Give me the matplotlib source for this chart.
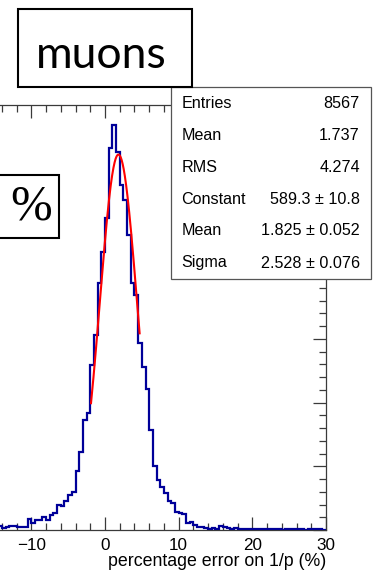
import numpy as np
import matplotlib
matplotlib.use("Agg")
import matplotlib.pyplot as plt
from matplotlib.patches import Rectangle
from matplotlib.ticker import MultipleLocator

plt.rcParams["font.family"] = ["Liberation Sans", "DejaVu Sans"]

# Histogram of the 1/p percentage error, 0.5-wide bins from -15 to 30
bin_start = -15.0
bin_stop = 30.0
counts = [
    4, 7, 3, 4, 7, 7, 5, 5, 5, 18,            # -15 .. -10
    11, 15, 15, 21, 16, 24, 26, 40, 37, 45,   # -10 .. -5
    55, 60, 93, 123, 172, 183, 259, 306, 387, 437,   # -5 .. 0
    490, 599, 636, 594, 542, 518, 463, 387, 369, 293,  # 0 .. 5
    256, 222, 157, 100, 79, 68, 58, 46, 42, 29,  # 5 .. 10
    26, 25, 11, 13, 8, 4, 4, 3, 1, 3,         # 10 .. 15
    1, 6, 4, 3, 1, 3, 2, 1, 2, 1,             # 15 .. 20
    2, 1, 1, 2, 1, 1, 2, 1, 0, 1,             # 20 .. 25
    1, 1, 2, 1, 0, 1, 1, 2, 1, 0,             # 25 .. 30
]

# Gaussian fit result and fit window
fit_constant = 589.3
fit_mean = 1.825
fit_sigma = 2.528
fit_from, fit_to = -1.9, 4.7

# Statistics box contents
stat_names = ["Entries", "Mean", "RMS", "Constant", "Mean", "Sigma"]
stat_values = ["8567", "1.737", "4.274", "589.3 \u00b1 10.8",
               "1.825 \u00b1 0.052", "2.528 \u00b1 0.076"]

# x axis: major tick positions and their printed labels
x_tick_values = [-30, -20, -10, 0, 10, 20, 30]
x_tick_labels = ["", "", "\u221210", "0", "10", "20", "30"]
x_title = "percentage error on 1/p (%)"
particle_label = "muons"
unit_label = "%"

W, H = 376, 570
fig = plt.figure(figsize=(W / 100, H / 100), dpi=100)
fig.patch.set_facecolor("white")


def fx(px):
    return px / W


def fy(py):
    return 1 - py / H


frame_col = "#3a3a3a"

ax = fig.add_axes([fx(-116), fy(530), 442 / W, 425 / H])
edges = np.linspace(bin_start, bin_stop, len(counts) + 1)
ax.stairs(counts, edges, color="#000099", linewidth=1.6, zorder=3)

xf = np.linspace(fit_from, fit_to, 300)
yf = fit_constant * np.exp(-0.5 * ((xf - fit_mean) / fit_sigma) ** 2)
ax.plot(xf, yf, color="#ff0000", linewidth=1.5, zorder=4)

ax.set_xlim(-30, 30)
ax.set_ylim(0, 667)
ax.set_xticks(x_tick_values)
ax.set_xticklabels(x_tick_labels)
ax.xaxis.set_minor_locator(MultipleLocator(2))
ax.yaxis.set_major_locator(MultipleLocator(100))
ax.yaxis.set_minor_locator(MultipleLocator(20))
ax.tick_params(which="both", direction="in", top=True, right=True,
               color=frame_col, width=0.9, labelsize=12.3, pad=6)
ax.tick_params(axis="y", labelleft=False)
ax.tick_params(which="major", length=9.6)
ax.tick_params(which="minor", length=4.8)
for s in ax.spines.values():
    s.set_color(frame_col)
    s.set_linewidth(0.9)

ax.set_xlabel(x_title, fontsize=12.8, loc="right")
ax.xaxis.set_label_coords(1.0, -(553 - 530) / 425)

# statistics box
bx0, by0, bx1, by1 = 171, 87, 371, 279
fig.add_artist(Rectangle((fx(bx0), fy(by1)), fx(bx1) - fx(bx0), fy(by0) - fy(by1),
                         transform=fig.transFigure, facecolor="white",
                         edgecolor="#555555", linewidth=0.9, zorder=5))
row_h = (by1 - by0) / len(stat_names)
for i, (name, val) in enumerate(zip(stat_names, stat_values)):
    yc = by0 + row_h * (i + 0.5)
    fig.text(fx(181.5), fy(yc), name, ha="left", va="center",
             fontsize=11.6, zorder=6)
    fig.text(fx(360), fy(yc), val, ha="right", va="center",
             fontsize=11.6, zorder=6)

# particle label box
fig.add_artist(Rectangle((fx(18), fy(87)), fx(192) - fx(18), fy(9) - fy(87),
                         transform=fig.transFigure, facecolor="white",
                         edgecolor="black", linewidth=1.5, zorder=7))
fig.text(fx(101.5), fy(68.5), particle_label, ha="center", va="baseline",
         fontsize=32, family=["Lato", "DejaVu Sans"], zorder=8)

# unit label box (runs off the left edge of the canvas)
fig.add_artist(Rectangle((fx(-40), fy(238)), fx(59) - fx(-40), fy(175) - fy(238),
                         transform=fig.transFigure, facecolor="white",
                         edgecolor="black", linewidth=1.5, zorder=7))
fig.text(fx(31), fy(207), unit_label, ha="center", va="center",
         fontsize=36, family=["Liberation Serif", "DejaVu Serif"], zorder=8)

fig.savefig("out.png", dpi=100)
